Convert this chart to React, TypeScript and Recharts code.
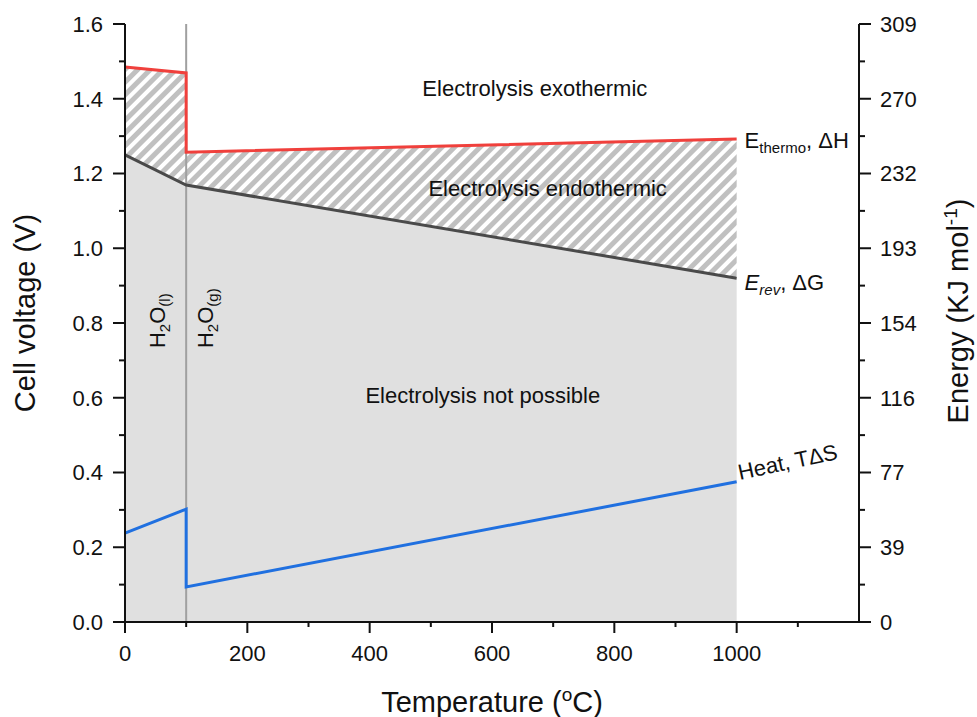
import { ComposedChart, Area, Line, XAxis, YAxis, ReferenceLine, ReferenceDot } from 'recharts'

const temps = [0, 100, 100, 1000]
const eThermo = [1.485, 1.469, 1.257, 1.292]
const eRev = [1.25, 1.169, 1.169, 0.92]
const heat = [0.238, 0.302, 0.094, 0.375]

const tempTicks = [0, 100, 200, 300, 400, 500, 600, 700, 800, 900, 1000, 1100]
const tempLabels = ['0', '', '200', '', '400', '', '600', '', '800', '', '1000', '']
const voltTicks = [0, 0.1, 0.2, 0.3, 0.4, 0.5, 0.6, 0.7, 0.8, 0.9, 1.0, 1.1, 1.2, 1.3, 1.4, 1.5, 1.6]
const voltLabels = ['0.0', '', '0.2', '', '0.4', '', '0.6', '', '0.8', '', '1.0', '', '1.2', '', '1.4', '', '1.6']
const energyLabels = ['0', '', '39', '', '77', '', '116', '', '154', '', '193', '', '232', '', '270', '', '309']

const data = temps.map((t, i) => ({
  t,
  thermo: eThermo[i],
  rev: eRev[i],
  heat: heat[i],
  band: [eRev[i], eThermo[i]],
}))

const FONT = '"Liberation Sans", Arial, sans-serif'
const INK = '#111'

function BottomTick({ x, y, payload }: any) {
  const label = tempLabels[tempTicks.indexOf(payload.value)] ?? ''
  const len = label ? 11 : 5
  return (
    <g>
      <line x1={x} x2={x} y1={y} y2={y + len} stroke={INK} strokeWidth={2} />
      {label && (
        <text x={x} y={y + 39} textAnchor="middle" fontSize={22} fontFamily={FONT} fill={INK}>{label}</text>
      )}
    </g>
  )
}

function LeftTick({ x, y, payload }: any) {
  const label = voltLabels[voltTicks.indexOf(payload.value)] ?? ''
  const len = label ? 12 : 6
  return (
    <g>
      <line x1={x - len} x2={x} y1={y} y2={y} stroke={INK} strokeWidth={2} />
      {label && (
        <text x={x - 22} y={y} dy="0.36em" textAnchor="end" fontSize={22} fontFamily={FONT} fill={INK}>{label}</text>
      )}
    </g>
  )
}

function RightTick({ x, y, payload }: any) {
  const label = energyLabels[voltTicks.indexOf(payload.value)] ?? ''
  const len = label ? 12 : 6
  return (
    <g>
      <line x1={x} x2={x + len} y1={y} y2={y} stroke={INK} strokeWidth={2} />
      {label && (
        <text x={x + 21} y={y} dy="0.36em" textAnchor="start" fontSize={22} fontFamily={FONT} fill={INK}>{label}</text>
      )}
    </g>
  )
}

// label helper: ReferenceDot gives us the scaled point, we draw text there
const at = (draw: (x: number, y: number) => any) => (p: any) => {
  const vb = p.viewBox || {}
  return draw(vb.x + (vb.width || 0) / 2, vb.y + (vb.height || 0) / 2)
}

const noteStyle = { fontSize: 22, fontFamily: FONT, fill: INK }

export default function App() {
  return (
    <div style={{ position: 'absolute', left: 0, top: 0, background: '#fff' }}>
      <ComposedChart width={977} height={717} data={data} margin={{ top: 24, right: 0, bottom: 0, left: 0 }}>
        <defs>
          <pattern id="hatch" patternUnits="userSpaceOnUse" width={9} height={9} patternTransform="rotate(45)">
            <rect width={9} height={9} fill="#ffffff" />
            <rect width={5} height={9} fill="#c0c0c0" />
          </pattern>
        </defs>
        <XAxis
          dataKey="t"
          type="number"
          domain={[0, 1200]}
          ticks={tempTicks}
          interval={0}
          height={95}
          tickSize={0}
          tickMargin={0}
          tickLine={false}
          tick={<BottomTick />}
          axisLine={{ stroke: INK, strokeWidth: 2 }}
          label={{
            content: () => (
              <text x={492} y={712} textAnchor="middle" fontSize={29} fontFamily={FONT} fill={INK}>
                Temperature (<tspan fontSize={19} dy={-11}>o</tspan><tspan dy={11}>C)</tspan>
              </text>
            ),
          }}
        />
        <XAxis
          xAxisId="top"
          orientation="top"
          type="number"
          domain={[0, 1200]}
          height={0}
          tick={false}
          tickLine={false}
          axisLine={{ stroke: INK, strokeWidth: 2 }}
        />
        <YAxis
          type="number"
          domain={[0, 1.6]}
          ticks={voltTicks}
          interval={0}
          width={125}
          tickSize={0}
          tickMargin={0}
          tickLine={false}
          tick={<LeftTick />}
          axisLine={{ stroke: INK, strokeWidth: 2 }}
          label={{
            content: () => (
              <text x={35} y={313} transform="rotate(-90 35 313)" textAnchor="middle" fontSize={29} fontFamily={FONT} fill={INK}>
                Cell voltage (V)
              </text>
            ),
          }}
        />
        <YAxis
          yAxisId="right"
          orientation="right"
          type="number"
          domain={[0, 1.6]}
          ticks={voltTicks}
          interval={0}
          width={118}
          tickSize={0}
          tickMargin={0}
          tickLine={false}
          tick={<RightTick />}
          axisLine={{ stroke: INK, strokeWidth: 2 }}
          label={{
            content: () => (
              <text x={968} y={311} transform="rotate(-90 968 311)" textAnchor="middle" fontSize={29} fontFamily={FONT} fill={INK}>
                Energy (KJ mol<tspan fontSize={19} dy={-11}>-1</tspan><tspan dy={11}>)</tspan>
              </text>
            ),
          }}
        />

        <Area dataKey="rev" type="linear" fill="#e0e0e0" fillOpacity={1} stroke="none" isAnimationActive={false} />
        <Area dataKey="band" type="linear" fill="url(#hatch)" fillOpacity={1} stroke="none" isAnimationActive={false} />
        <ReferenceLine x={100} stroke="#a0a0a0" strokeWidth={2} />
        <Line dataKey="thermo" type="linear" stroke="#f0403c" strokeWidth={3} dot={false} isAnimationActive={false} />
        <Line dataKey="rev" type="linear" stroke="#4a4a4a" strokeWidth={3} dot={false} isAnimationActive={false} />
        <Line dataKey="heat" yAxisId="right" type="linear" stroke="#2070e0" strokeWidth={3} dot={false} isAnimationActive={false} />

        <ReferenceDot x={670} y={1.407} r={1} fill="none" stroke="none"
          label={{ content: at((x, y) => <text x={x} y={y} textAnchor="middle" {...noteStyle}>Electrolysis exothermic</text>) }} />
        <ReferenceDot x={691} y={1.14} r={1} fill="none" stroke="none"
          label={{ content: at((x, y) => <text x={x} y={y} textAnchor="middle" {...noteStyle}>Electrolysis endothermic</text>) }} />
        <ReferenceDot x={585} y={0.586} r={1} fill="none" stroke="none"
          label={{ content: at((x, y) => <text x={x} y={y} textAnchor="middle" {...noteStyle}>Electrolysis not possible</text>) }} />
        <ReferenceDot x={1013} y={1.268} r={1} fill="none" stroke="none"
          label={{ content: at((x, y) => (
            <text x={x} y={y} {...noteStyle}>
              E<tspan fontSize={15} dy={5}>thermo</tspan><tspan dy={-5}>, ΔH</tspan>
            </text>
          )) }} />
        <ReferenceDot x={1013} y={0.888} r={1} fill="none" stroke="none"
          label={{ content: at((x, y) => (
            <text x={x} y={y} {...noteStyle}>
              <tspan fontStyle="italic">E</tspan><tspan fontStyle="italic" fontSize={15} dy={5}>rev</tspan><tspan dy={-5}>, ΔG</tspan>
            </text>
          )) }} />
        <ReferenceDot x={1005} y={0.38} r={1} fill="none" stroke="none"
          label={{ content: at((x, y) => (
            <text x={x} y={y} transform={`rotate(-12 ${x} ${y})`} {...noteStyle}>Heat, TΔS</text>
          )) }} />
        <ReferenceDot x={65} y={0.733} r={1} fill="none" stroke="none"
          label={{ content: at((x, y) => (
            <text x={x} y={y} transform={`rotate(-90 ${x} ${y})`} {...noteStyle}>
              H<tspan fontSize={15} dy={5}>2</tspan><tspan dy={-5}>O</tspan><tspan fontSize={15} dy={5}>(l)</tspan>
            </text>
          )) }} />
        <ReferenceDot x={144} y={0.733} r={1} fill="none" stroke="none"
          label={{ content: at((x, y) => (
            <text x={x} y={y} transform={`rotate(-90 ${x} ${y})`} {...noteStyle}>
              H<tspan fontSize={15} dy={5}>2</tspan><tspan dy={-5}>O</tspan><tspan fontSize={15} dy={5}>(g)</tspan>
            </text>
          )) }} />
      </ComposedChart>
    </div>
  )
}
